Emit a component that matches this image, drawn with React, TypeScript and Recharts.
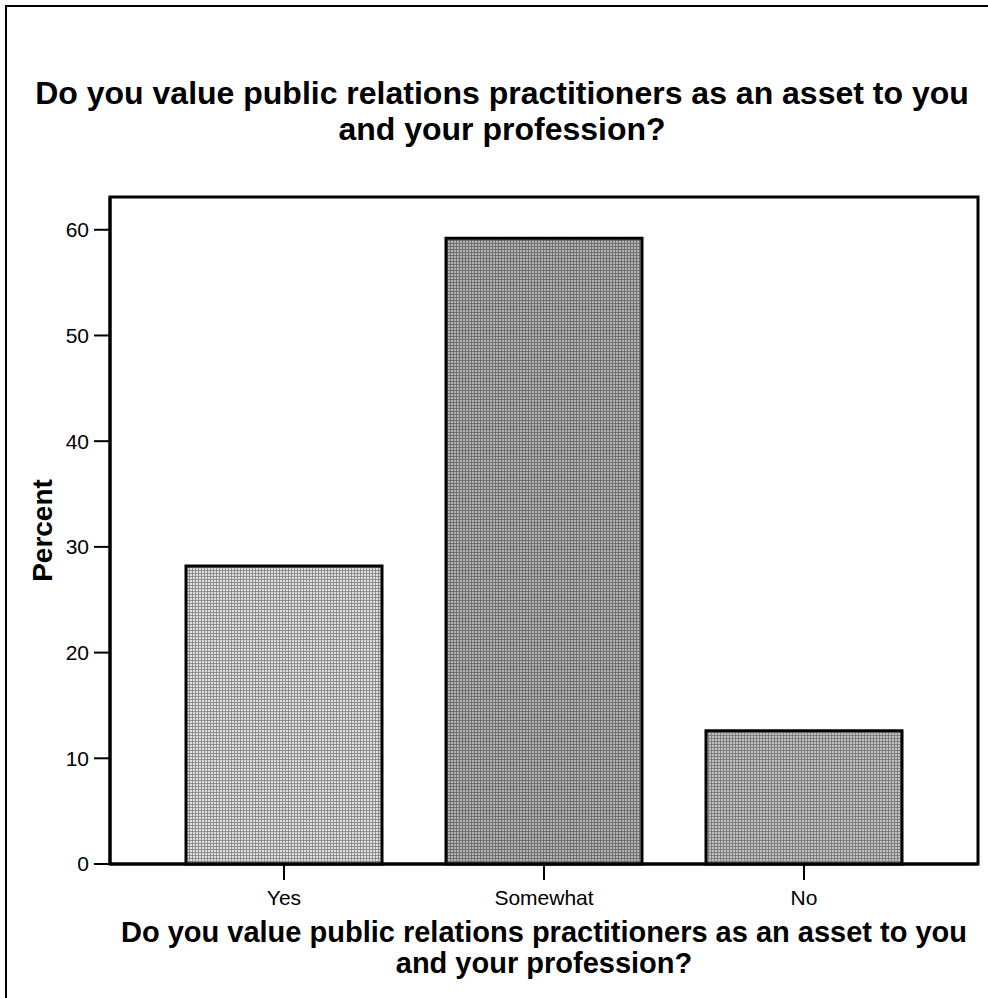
import * as Recharts from 'recharts'
import { Bar, BarChart, Cell, XAxis, YAxis } from 'recharts'

const categories = ['Yes', 'Somewhat', 'No']
const percents = [28.2, 59.2, 12.6]
const yTicks = [0, 10, 20, 30, 40, 50, 60]
const questionLine1 = 'Do you value public relations practitioners as an asset to you'
const questionLine2 = 'and your profession?'

const chartData = categories.map((name, i) => ({ name, percent: percents[i] }))

// halftone-ish textures, one per bar, roughly matching the scanned grays
const textures = [
  { id: 'tex-yes', base: '#e0e0e0', line: '#8e8e8e' },
  { id: 'tex-somewhat', base: '#b4b4b4', line: '#707070' },
  { id: 'tex-no', base: '#c2c2c2', line: '#7e7e7e' },
]

const font = '"Liberation Sans", Arial, Helvetica, sans-serif'

const usePlotArea: () => any =
  (Recharts as any).usePlotArea ?? (() => ({ x: 110, y: 197, width: 868, height: 667 }))

// box round the plot area, like the SPSS frame
function PlotFrame() {
  const area = usePlotArea()
  if (!area) return null
  return (
    <rect
      x={area.x}
      y={area.y}
      width={area.width}
      height={area.height}
      fill="none"
      stroke="#000"
      strokeWidth={3}
    />
  )
}

function PercentLabel({ viewBox }: any) {
  const cy = viewBox.y + viewBox.height / 2
  return (
    <text
      x={52}
      y={cy}
      transform={`rotate(-90 52 ${cy})`}
      textAnchor="middle"
      fontFamily={font}
      fontWeight="bold"
      fontSize={28}
      fill="#000"
    >
      Percent
    </text>
  )
}

export default function App() {
  return (
    <div style={{ position: 'absolute', left: 0, top: 0, width: 988, height: 998, background: '#fff', overflow: 'hidden' }}>
      <svg width={0} height={0} style={{ position: 'absolute' }}>
        <defs>
          {textures.map((t) => (
            <pattern key={t.id} id={t.id} width={3} height={3} patternUnits="userSpaceOnUse">
              <rect width={3} height={3} fill={t.base} />
              <rect width={3} height={1} fill={t.line} />
              <rect width={1} height={3} fill={t.line} />
            </pattern>
          ))}
        </defs>
      </svg>

      <div
        style={{
          position: 'absolute',
          left: 5,
          top: 5,
          width: 1000,
          height: 1000,
          borderLeft: '2px solid #000',
          borderTop: '2px solid #000',
        }}
      />

      <div
        style={{
          position: 'absolute',
          left: 0,
          top: 75,
          width: 1004,
          textAlign: 'center',
          fontFamily: font,
          fontWeight: 'bold',
          fontSize: 32,
          lineHeight: '36px',
          color: '#000',
        }}
      >
        {questionLine1}
        <br />
        {questionLine2}
      </div>

      <div style={{ position: 'absolute', left: 0, top: 0 }}>
        <BarChart
          width={988}
          height={998}
          data={chartData}
          margin={{ top: 197, right: 10, left: 0, bottom: 74 }}
          barSize={196}
        >
          <XAxis
            dataKey="name"
            height={60}
            padding={{ left: 44, right: 44 }}
            axisLine={{ stroke: '#000', strokeWidth: 3 }}
            tickLine={{ stroke: '#000', strokeWidth: 2 }}
            tickSize={16}
            tickMargin={10}
            tick={{ fill: '#000', fontSize: 21, fontFamily: font }}
          />
          <YAxis
            width={110}
            domain={[0, 63.1]}
            ticks={yTicks}
            axisLine={{ stroke: '#000', strokeWidth: 3 }}
            tickLine={{ stroke: '#000', strokeWidth: 2 }}
            tickSize={16}
            tickMargin={5}
            tick={{ fill: '#000', fontSize: 21, fontFamily: font }}
            label={<PercentLabel />}
          />
          <Bar dataKey="percent" stroke="#000" strokeWidth={3} isAnimationActive={false}>
            {chartData.map((d, i) => (
              <Cell key={d.name} fill={`url(#${textures[i].id})`} />
            ))}
          </Bar>
          <PlotFrame />
        </BarChart>
      </div>

      <div
        style={{
          position: 'absolute',
          left: 110,
          top: 917,
          width: 868,
          textAlign: 'center',
          fontFamily: font,
          fontWeight: 'bold',
          fontSize: 29,
          lineHeight: '31px',
          color: '#000',
        }}
      >
        {questionLine1}
        <br />
        {questionLine2}
      </div>
    </div>
  )
}
